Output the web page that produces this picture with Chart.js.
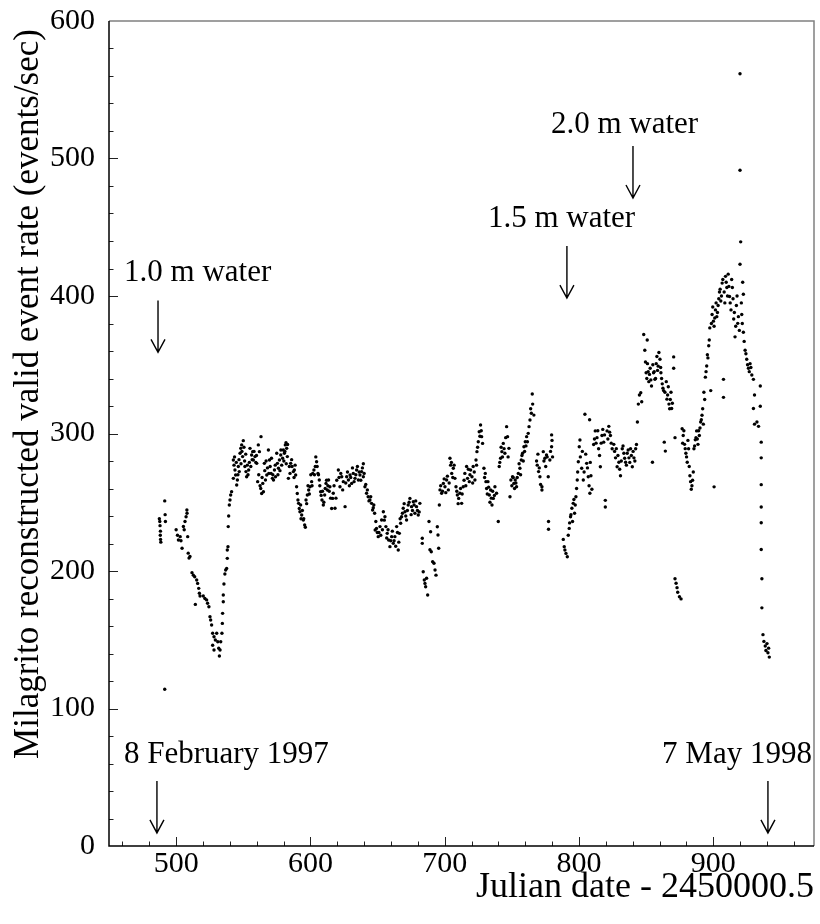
<!DOCTYPE html>
<html>
<head>
<meta charset="utf-8">
<script src="https://cdn.jsdelivr.net/npm/chart.js@4.4.1/dist/chart.umd.min.js"></script>
<style>
  html, body { margin: 0; padding: 0; background: #fff; }
  canvas { display: block; }
</style>
</head>
<body>
<canvas id="rateChart" width="820" height="924"></canvas>
<script>
// Julian date - 2450000.5 for each run, and its reconstructed event rate (events/sec)
const julianDay = [
  487.5, 487.8, 488, 488.2, 488.4, 488.6, 488.3, 491.5, 491.8, 492, 491.5,
  500, 501, 501.7, 503, 503.6, 504.4, 505.4, 506, 506.6, 507.4, 508, 508.1, 508.6, 509, 509.6, 510.3,
  511.8, 512.8, 513.8, 514.3, 515.3, 516, 516.8, 517.3, 517.8,
  520.2, 521.4, 522.7, 523.4, 524.4, 525.2, 525.7, 526.4, 527.2, 528.2, 529.2, 527.2, 528.2, 530.2, 531, 531.7,
  532.2, 532.7, 533.2, 534.1, 534.4, 534.6, 535.1, 535.1, 535.6, 536.3, 536.9, 537.6, 538.1, 538.1, 538.6, 538.8,
  539.1, 539.6, 540.1, 540.6, 541.3, 542.6,
  542.6, 543.1, 543.8, 544.3, 545.1, 545.6, 546.3, 547, 547.6, 548.1, 548.8, 550, 549.5, 551.2, 552, 552.5, 553,
  554, 555, 556.2, 557, 557.5, 558.7, 560, 560.7, 561.2, 562, 563.2, 563, 563.7, 564.5, 565, 565.7, 566.5, 567.5,
  568.7, 569.5, 570, 570.7, 571.7, 572.5, 573.2, 574, 574.9, 575.4, 576.2, 576.9, 577.9, 578.6, 579.3, 579.8, 580.6,
  581.3, 581.8, 582.3, 582.8, 583.6, 584.3, 585.3, 586.3, 587.3, 588, 589, 589.7, 590.2, 590.7, 591.2, 591.7, 592.2,
  592.7, 593.5, 594.7, 595.7, 596.2, 596.7, 597.7, 598.7, 599.7, 600.9, 601.7, 602.6, 603.6, 604.6, 605.6, 606.6,
  607.6, 608.6, 609.6, 610.6, 611.6, 612.6, 613.5, 614.5, 615.8, 616.5,
  617, 618.3, 619.6, 620.8, 622, 623.3, 624.5, 625.8, 627, 628.3, 629.5, 630.7, 631.9, 633.2, 634.4, 635.7, 636.9,
  638.1, 639.4, 639.4, 640.6, 641.8, 643, 644.3, 645.5, 646.3, 647.2, 648.2, 649.2, 650.5, 651.8, 653, 654.3, 655.5,
  656.2, 657.2, 658.2, 659.2, 660.5, 661.7, 662.9, 664.2, 665.4, 666.2, 667.2, 667.9, 669.1, 670.4, 671.6, 672.8,
  674.1, 675.3, 676.6, 677.8, 679, 680.3, 681.5,
  683.3, 683.3, 684, 684.8, 685.3, 685.8, 686.5, 687.3, 688.3, 689.5, 689, 690, 691, 692, 692.8, 693.5, 694.5, 695,
  695.5, 696, 696.5, 697.7, 699, 700.2, 701.4, 702.7, 703.9, 704.4, 705.2, 706.4, 707.6, 708.4, 709.4, 710.4, 711.3,
  712.6, 713.8, 715, 716.3, 717, 718.3, 719.3, 720.3, 721.2, 722.5, 723.3, 724, 725, 725.7, 726.7, 727.5, 728.2,
  729.2, 730.2, 731.2, 732.2, 733.2, 734.2, 735.2, 736.2, 737.4, 738.6, 739.9, 740.6, 741.6, 742.6, 743.6, 744.8,
  746.1, 746.8, 747.8, 748.6, 749.3, 750.5, 751.5, 752.5, 753.5, 754.8, 756, 757, 758, 759, 760, 761, 762.2, 763.5,
  764.5, 765.2, 765.5, 766.4, 768.9, 769.9, 770.9, 772.4, 772.4, 773.4, 774.6, 775.8, 777.1, 777.3, 777.3, 778.3,
  779.6, 779.6, 780.3,
  788.3, 789, 789.5, 790.3, 791.3, 792.7, 793.7, 794.7, 795.7, 796.7, 797.7, 798.7, 799.5, 800.2, 800.7, 802, 803.2,
  804.4, 805.7, 806.9, 808.1,
  808.4, 808.9, 807.9, 809.6, 810.9, 812.1, 813.4, 814.6, 815.9, 817.1, 818.4, 819.6, 819.6, 820.9, 822.2, 823.4,
  824.7, 825.9, 827.2, 828.4, 829.7, 830.9, 832.2, 833.4, 834.7, 835.9, 837.2, 838.4, 839.7, 840.9, 842.2,
  843.5, 844.2, 845, 846, 846.7, 849, 850, 851, 852, 853, 854, 854.7, 855.5, 856.5, 857.5, 858.5, 859.5, 860.3, 861,
  862, 863, 863.5, 864.3, 865, 866, 867, 868, 869, 870.5, 870.5, 871.5,
  871.5, 872.3, 873, 873.5, 874.8, 876,
  876.8, 877.6, 878.6, 879.6, 880.6, 881.6, 882.6, 883.6, 884.6, 885.6, 886.6, 887.6, 888.6, 889.6, 890.6, 891.6,
  892.6, 893.6, 894.1, 895.1, 895.6, 896.6, 897.4, 898.1, 899.1, 900.1, 900.6, 901.6, 902.6, 903.6, 904.6, 905.6,
  906.6, 907.6, 907.6, 908.1, 909.1, 910.1, 911.1, 912.1, 913.2, 914.2, 915.2, 916.2, 917.2, 918.2,
  919.9, 919.9, 920.4, 919.9, 921.9, 922.4, 921.2, 922.4, 923.7, 924.9, 926.2, 927.4, 928.7, 929.9, 930.7, 929.9,
  930.7, 932.5, 933.7, 935, 935,
  935.7, 935.7, 935.7, 935.7, 935.7, 935.7, 936.2, 936.2, 937, 937.7, 938.7, 939.2, 940, 940.7, 941.2, 941.7,
  // denser stretches
  543.5, 544.8, 546, 546.8, 548.3, 549, 550.5, 551, 551.8, 553.5, 554.5, 555.6, 556.6, 558, 559.3, 559.8, 561.5,
  562.5, 564, 566, 567, 568, 569, 571, 572, 573.8, 575.8, 577.3, 578, 580.2, 581, 582, 583, 584.8, 586, 587.8,
  588.6, 593, 594, 595, 597.2, 598.2, 599.2, 600.3, 601.2, 603, 604, 605, 606, 607, 608, 609, 610, 611, 612, 613,
  614, 615,
  617.6, 619, 621.3, 622.6, 624, 626.3, 627.6, 629, 630, 631.3, 632.5, 633.8, 635, 636.3, 637.5, 638.7, 640, 641.2,
  642.4, 643.6, 644.9, 646.8, 647.8, 648.7, 649.8, 651, 652.4, 653.6, 655, 656.8, 657.8, 659.8, 661, 662.3, 663.5,
  664.8, 665.8, 666.8, 668.5, 669.8, 671, 672.2, 673.5, 675, 676, 677.2, 678.4, 679.7, 681,
  697, 698.4, 699.6, 700.8, 702, 703.3, 705, 706, 707, 709, 710, 711.8, 713, 714.4, 715.7, 717.6, 718.8, 720.8, 722,
  723.7, 724.5, 726.2, 727.2, 729.7, 730.7, 731.7, 732.7, 733.7, 734.7, 735.7, 737, 741, 742, 743, 744.2, 745.4,
  747.2, 750, 751, 752, 753, 754, 755.4, 756.5, 757.5, 758.5, 759.5, 760.5, 761.6, 762.8, 764, 768.4, 769.4, 770.4,
  771.4, 773.9, 775.2, 776.3, 778.8, 779.9,
  792, 793, 794, 795.2, 796.2, 797.2, 798.2, 799, 801, 802.5, 803.8, 805, 806.3, 807.5, 811.5, 812.7, 814, 815.3,
  816.5, 817.7, 819, 821.5, 822.8, 824, 826.5, 827.8, 829, 830.3, 831.5, 832.8, 834, 835.3, 836.6, 837.8, 839,
  840.3, 841.6, 842.8,
  849.5, 850.5, 851.5, 852.5, 853.5, 855, 856, 857, 858, 859, 860.8, 861.5, 862.5, 864, 865.5, 866.5, 867.5, 868.5,
  869.5, 848.2, 850.8,
  877.2, 878.1, 879.1, 880.1, 881.1, 882.1, 883.1, 884.1, 885.1, 886.1, 887.1, 888.1, 889.1, 890.1, 891.1, 892.1,
  893, 894.6, 896, 897, 898.6, 899.6, 900.6, 901.1, 902.1, 903.1, 904.1, 905.1, 906.1, 907.1, 908.6, 909.6, 910.6,
  911.6, 912.6, 913.7, 914.7, 915.7, 916.7, 917.7, 918.7, 919.4, 920.9, 921.6, 923, 924.3, 925.5, 926.8, 928
];
const eventRate = [
  238, 236, 233, 226, 223, 221, 229, 251, 241, 236, 114,
  230, 226, 222.6, 225, 222, 216.6, 232.4, 230, 236, 239.5, 244.4, 242, 225, 213, 209.4, 210.6,
  198.8, 197, 195.8, 175.7, 193.5, 191, 187.4, 183.8, 181.8,
  181.8, 180, 179, 176.5, 174, 166.8, 164.4, 160.7, 154.7, 152.2, 149.8, 146, 142.5, 154.7, 148.6, 143.8,
  138.2, 142.5, 148.6, 154.7, 161.9, 169.2, 177.6, 182.5, 190.5, 197.8, 200.7, 201.9, 209.2, 215.3, 217.7, 232.3,
  240, 248, 251.6, 255.3, 257.7, 267.4,
  280.7, 277, 273.5, 269.8, 262.5, 266.2, 276, 272.3, 285.6, 289.2, 291.7, 294.8, 283.2, 276, 272.3, 268.6, 277,
  273.5, 289.2, 284.4, 286.8, 280.7, 283.2, 278.3, 265, 291.7, 286.8, 297.7, 260, 256.4, 263.7, 257.6, 278.3, 266.2, 269.8,
  288, 280.7, 276, 271, 267.4, 266.2, 273.5, 268.6, 285.6, 278.3, 274.7, 280.7, 284.4, 277, 282, 288, 285.6,
  291.7, 293.3, 289.2, 283.2, 267.4, 276, 278.3, 276, 272.3, 273.5, 269.8, 261.3, 256.4, 251.6, 249.2, 245.5, 243.1,
  248, 240.7, 237.1, 233.5, 231.8, 251.6, 255.3, 258.9, 261.3, 265, 271, 273.5, 276, 279.5, 271, 266.2,
  257.6, 251.6, 248, 255.3, 263.7, 258.9, 266.2, 261.3, 245.5, 252.8,
  256.5, 245.6, 266, 273.5, 261.3, 268.6, 265, 246.8, 268.6, 266.2, 269.8, 263.7, 271, 267.4, 273.5, 266.2, 269.8,
  272.3, 278, 268.6, 261.3, 256.5, 254, 251.6, 249.2, 244.4, 248, 229.8, 231, 225, 232.3, 237.1, 243.1, 239.5,
  232.3, 227.4, 222.5, 217.7, 225, 220.1, 225, 232.3, 215.3, 227.4, 234.7, 239.5, 245.6, 243.1, 237.1, 248,
  252.8, 246.8, 250.4, 242, 246.8, 240.7, 249.2,
  223.8, 220.1, 199.5, 193.5, 191, 188.6, 194.7, 182.5, 236, 228.6, 215.5, 214, 206.8, 205.6, 200.7, 197, 232.2, 226.2,
  216.5, 248, 259, 256.5, 263.7, 261.3, 266.2, 259, 282, 277, 271, 274.7, 267.4, 261.3, 255.3, 252.8, 256.5,
  249.2, 261.3, 271, 276, 267.4, 265, 273.5, 268.6, 276, 266.2, 280.7, 286.8, 294, 301.3, 306.2, 297.7, 292.8,
  274.7, 271, 260, 265, 255.3, 258.9, 248, 252.8, 261.3, 256.5, 236, 276, 282, 286.8, 292.8, 285.6,
  305, 297.7, 289.2, 254, 266.2, 268.6, 263.7, 266.2, 261.3, 271, 274.7, 280.7, 285.6, 290.4, 294, 297.7, 300.1, 309.8,
  314.7, 328.7, 321.4, 313.4, 277, 272.3, 268.6, 261.3, 258.9, 286.8, 282, 284.4, 268.6, 236, 230.4, 280.7,
  299, 290.4, 283,
  223, 217.7, 215.3, 212.8, 210.4, 231, 239.5, 245.6, 249.2, 242, 254, 266.2, 279.5, 290.4, 295.3, 274.7, 266.2,
  314, 278.3, 268.6, 256.5,
  279, 269.3, 310, 259.5, 292, 301.9, 297, 288.9, 275.8, 298.6, 293.7, 251.4, 246.5, 301.9, 305.2, 298.6,
  288.9, 292.1, 282.3, 275.8, 279.1, 269.3, 288.9, 285.6, 279.1, 285.6, 282.3, 288.9, 275.8, 282.3, 288.9,
  308.4, 321.4, 328, 329.6, 323.1, 360.5, 344.2, 350.8, 337.7, 347.5, 334.5, 279.1, 344.2, 339.4, 350.8, 345.9, 358.9, 354, 344.2,
  336.1, 331.2, 293.7, 287.2, 337.7, 328, 321.4, 324.7, 318.2, 355.7, 347.5, 297,
  194.4, 191.1, 187.9, 184.6, 181.3, 179.7,
  303.5, 298.6, 292.1, 285.6, 279.1, 288.9, 269.3, 259.5, 266, 288.9, 295.4, 301.9, 292.1, 298.6, 308.4, 313.3,
  306.8, 324.7, 341, 349.1, 357.3, 363.8, 376.8, 331.2, 386.6, 381.7, 261.2, 389.9, 385, 393.1, 402.9, 396.4,
  409.4, 339.4, 326.3, 402.9, 414.3, 406.2, 415.9, 399.6, 389.9, 406.2, 383.3, 370.3, 393.1, 380.1,
  561.6, 491.5, 439.4, 423.1, 410, 401.3, 386.6, 373.6, 360.5, 354, 347.5, 350.8, 342.6, 339.4, 328, 318.2,
  306.8, 308.4, 305.2, 334.5, 319.8,
  293.7, 282.3, 262.8, 246.5, 235.1, 215.6, 194.4, 173.2, 153.7, 148.8, 145.5, 142.2, 147.2, 140.6, 143.9, 137.4,
  // denser stretches
  283, 279, 270, 281, 278, 287, 290, 280, 285, 270, 279, 276, 281, 287, 279, 284, 270,
  262, 268, 273, 280, 275, 271, 282, 270, 277, 270, 273, 288, 280, 287, 278, 292, 271, 281, 268,
  277, 238, 244, 238, 249, 262, 256, 270, 262, 270, 283, 276, 270, 262, 255, 258, 250, 260, 266, 262,
  258, 253,
  262, 253, 268, 271, 259, 264, 272, 262, 268, 275, 265, 270, 276, 272, 266, 275, 271, 263,
  259, 251, 254, 246, 242, 236, 228, 228, 226, 230, 237, 224, 230, 222, 229, 222, 218,
  228, 221, 238, 242, 249, 240, 244, 250, 241, 244, 248, 251, 244, 243,
  262, 258, 267, 257, 269, 264, 279, 268, 277, 258, 249, 260, 256, 266, 262, 274, 270, 264, 272,
  277, 290, 298, 302, 268, 265, 256, 261, 250, 253, 258, 255, 279, 290, 283, 289, 297,
  283, 262, 268, 260, 264, 268, 278, 270, 284, 280, 287, 291, 294, 305, 318, 280, 285, 275,
  263, 280, 276, 283, 287, 295,
  226, 235, 241, 236, 252, 248, 260, 272, 283, 287, 272, 285, 275, 262, 296, 293, 302, 284,
  293, 303, 299, 296, 301, 293, 287, 289, 284, 274, 280, 291, 282, 277, 288, 279, 284,
  287, 280, 292,
  352, 340, 345, 343, 339, 350, 345, 340, 356, 349, 348, 340, 333, 330, 325, 334, 318, 330,
  322, 372, 368,
  293, 302, 289, 283, 295, 276, 265, 262, 272, 291, 297, 296, 302, 304, 310, 318,
  330, 345, 355, 368, 380, 392, 378, 384, 395, 388, 398, 405, 400, 412, 395, 410, 400,
  407, 395, 412, 398, 388, 378, 400, 385, 375, 395, 380, 367, 358, 350, 345, 348
];

const xTickValues = [500, 600, 700, 800, 900];
const yTickValues = [0, 100, 200, 300, 400, 500, 600];

// arrows marking the start/end dates and the water depth changes
const markerText = ['1.0 m water', '8 February 1997', '7 May 1998', '1.5 m water', '2.0 m water'];
const markerDay = [486.5, 485.7, 940.7, 791, 840.2];
const markerTip = [359, 9.5, 9.5, 398.5, 471.3];

const serif = '"Liberation Serif", "Times New Roman", serif';

const points = julianDay.map((d, i) => ({ x: d, y: eventRate[i] }));

// label placement relative to each arrow (pixels)
const markerLayout = [
  { dx: -34, dy: -19, align: 'left' },
  { dx: -33, dy: -18, align: 'left' },
  { dx: 44, dy: -18, align: 'right' },
  { dx: -79, dy: -19, align: 'left' },
  { dx: -82, dy: -13, align: 'left' }
];

const framePlugin = {
  id: 'frameTicksMarkers',
  afterDatasetsDraw(chart) {
    const { ctx, chartArea: a, scales: { x, y } } = chart;
    ctx.save();

    // tick marks point into the plot
    ctx.strokeStyle = '#222';
    ctx.lineWidth = 1;
    for (let v = 460; v < 975; v += 20) {
      const px = Math.round(x.getPixelForValue(v)) + 0.5;
      const len = v % 100 === 0 ? 9 : 4.5;
      ctx.beginPath();
      ctx.moveTo(px, a.bottom);
      ctx.lineTo(px, a.bottom - len);
      ctx.stroke();
    }
    for (let v = 20; v < 600; v += 20) {
      const py = Math.round(y.getPixelForValue(v)) + 0.5;
      const len = v % 100 === 0 ? 9 : 4.5;
      ctx.beginPath();
      ctx.moveTo(a.left, py);
      ctx.lineTo(a.left + len, py);
      ctx.stroke();
    }

    // frame: dark left/bottom, grey top/right
    ctx.lineWidth = 1.5;
    ctx.strokeStyle = '#808080';
    ctx.beginPath();
    ctx.moveTo(a.left, a.top);
    ctx.lineTo(a.right, a.top);
    ctx.lineTo(a.right, a.bottom);
    ctx.stroke();
    ctx.strokeStyle = '#000';
    ctx.beginPath();
    ctx.moveTo(a.left, a.top);
    ctx.lineTo(a.left, a.bottom);
    ctx.lineTo(a.right, a.bottom);
    ctx.stroke();

    // vertical axis title
    ctx.fillStyle = '#000';
    ctx.font = '35px ' + serif;
    ctx.textAlign = 'center';
    ctx.textBaseline = 'alphabetic';
    ctx.save();
    ctx.translate(38, 394);
    ctx.rotate(-Math.PI / 2);
    ctx.fillText('Milagrito reconstructed valid event rate (events/sec)', 0, 0);
    ctx.restore();

    // arrows and their labels
    ctx.font = '31px ' + serif;
    ctx.lineWidth = 1.4;
    markerDay.forEach((d, i) => {
      const px = x.getPixelForValue(d);
      const tip = y.getPixelForValue(markerTip[i]);
      const top = tip - 52;
      ctx.beginPath();
      ctx.moveTo(px, top);
      ctx.lineTo(px, tip);
      ctx.moveTo(px - 7, tip - 13);
      ctx.lineTo(px, tip);
      ctx.lineTo(px + 7, tip - 13);
      ctx.stroke();
      const lay = markerLayout[i];
      ctx.textAlign = lay.align;
      ctx.fillText(markerText[i], px + lay.dx, top + lay.dy);
    });
    ctx.restore();
  }
};

new Chart(document.getElementById('rateChart'), {
  type: 'scatter',
  data: {
    datasets: [{
      data: points,
      backgroundColor: '#000',
      borderWidth: 0,
      pointRadius: 1.7,
      pointHoverRadius: 1.7
    }]
  },
  options: {
    responsive: false,
    animation: false,
    devicePixelRatio: 1,
    layout: { padding: { top: 21, right: 6, left: 0, bottom: 0 } },
    plugins: { legend: { display: false }, tooltip: { enabled: false } },
    scales: {
      x: {
        type: 'linear',
        min: 450,
        max: 975,
        afterBuildTicks: s => { s.ticks = xTickValues.map(v => ({ value: v })); },
        afterFit: s => { s.height = 78; },
        grid: { display: false, drawTicks: false },
        border: { display: false },
        ticks: { color: '#000', font: { family: serif, size: 30 }, padding: 0, maxRotation: 0, autoSkip: false },
        title: {
          display: true,
          text: 'Julian date - 2450000.5',
          align: 'end',
          color: '#000',
          font: { family: serif, size: 36 },
          padding: { top: 0, bottom: 15 }
        }
      },
      y: {
        type: 'linear',
        min: 0,
        max: 600,
        afterBuildTicks: s => { s.ticks = yTickValues.map(v => ({ value: v })); },
        afterFit: s => { s.width = 109; },
        grid: { display: false, drawTicks: false },
        border: { display: false },
        ticks: { color: '#000', font: { family: serif, size: 30, lineHeight: 0.4 }, padding: 14, autoSkip: false }
      }
    }
  },
  plugins: [framePlugin]
});
</script>
</body>
</html>
